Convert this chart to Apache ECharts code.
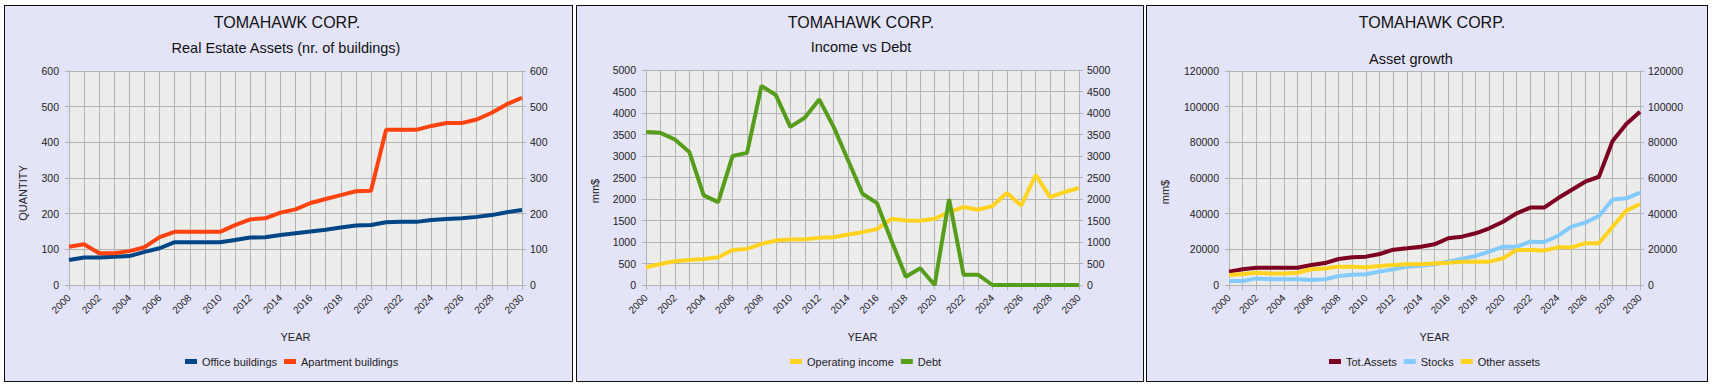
<!DOCTYPE html>
<html>
<head>
<meta charset="utf-8">
<script src="https://cdn.jsdelivr.net/npm/echarts@6/dist/echarts.min.js"></script>
<style>
  html, body { margin: 0; padding: 0; background: #ffffff; width: 1712px; height: 386px; overflow: hidden; }
  .panel { position: absolute; box-sizing: border-box; border: 1px solid #111; background: #e4e4f8; }
  #chart { position: absolute; left: 0; top: 0; width: 1712px; height: 386px; }
</style>
</head>
<body>
<div class="panel" style="left:4px;top:5px;width:569px;height:377px;"></div>
<div class="panel" style="left:576px;top:5px;width:568px;height:377px;"></div>
<div class="panel" style="left:1146px;top:5px;width:562px;height:377px;"></div>
<div id="chart"></div>
<script>
// ---- categories ----
const years = ['2000','2001','2002','2003','2004','2005','2006','2007','2008','2009','2010',
  '2011','2012','2013','2014','2015','2016','2017','2018','2019','2020',
  '2021','2022','2023','2024','2025','2026','2027','2028','2029','2030'];

// ---- panel 1: Real Estate Assets ----
const officeBuildings = [70,77,77,79,81,93,103,120,120,120,120,126,133,134,140,145,150,155,161,167,168,176,177,177,182,185,187,191,196,204,210];
const apartmentBuildings = [107,114,89,89,95,106,134,149,149,149,149,168,184,187,203,212,230,241,252,263,264,435,435,435,446,454,454,464,483,507,525];

// ---- panel 2: Income vs Debt ----
const operatingIncome = [412,490,552,583,607,645,816,840,956,1034,1058,1065,1096,1112,1174,1229,1299,1540,1500,1493,1540,1695,1812,1750,1835,2138,1851,2558,2045,2162,2255];
const debt = [3561,3538,3383,3095,2084,1928,3001,3072,4627,4417,3678,3888,4316,3678,2900,2123,1905,1034,194,389,0,1998,241,241,0,0,0,0,0,0,0];

// ---- panel 3: Asset growth ----
const totAssets = [7500,8800,9700,9700,9700,9700,11200,12300,14600,15500,15900,17400,19800,20600,21500,22800,26200,27100,29000,31800,35500,40200,43400,43400,48600,53300,57900,60700,80700,90300,97200];
const stocks = [2200,2200,3700,3200,3200,3200,2800,3200,5000,5800,6000,7500,8800,10300,10800,11600,13100,14600,16300,18700,21500,21500,24300,24100,27500,32700,35000,38700,48000,48600,51800];
const otherAssets = [5600,6200,6900,6500,6500,6900,8800,9300,10300,10300,9900,10700,11200,11600,11600,12100,12500,13100,13100,13100,15000,19600,19600,19300,21100,21100,23400,23400,32700,41700,45400];

// ---- texts ----
const corpTitle = 'TOMAHAWK CORP.';
const subTitles = ['Real Estate Assets (nr. of buildings)', 'Income vs Debt', 'Asset growth'];
const yNames = ['QUANTITY', 'mm$', 'mm$'];
const xName = 'YEAR';

const FONT = '"Liberation Sans", Arial, sans-serif';
const GRID_COLOR = '#b3b3b3';
const LABEL_COLOR = '#222222';

const grids = [
  { left: 69, top: 71, width: 453, height: 214 },
  { left: 646, top: 70, width: 433, height: 215 },
  { left: 1229, top: 71, width: 411, height: 214 }
];
const yScales = [
  { min: 0, max: 600, interval: 100 },
  { min: 0, max: 5000, interval: 500 },
  { min: 0, max: 120000, interval: 20000 }
];

function xAxisFor(i) {
  return {
    type: 'category', gridIndex: i, data: years, boundaryGap: false,
    name: xName, nameLocation: 'middle', nameGap: 46,
    nameTextStyle: { fontFamily: FONT, fontSize: 11, color: LABEL_COLOR },
    axisLine: { show: true, lineStyle: { color: GRID_COLOR } },
    axisTick: { show: true, interval: 0, length: 5, lineStyle: { color: GRID_COLOR } },
    axisLabel: { interval: 1, rotate: 45, fontFamily: FONT, fontSize: 10, color: LABEL_COLOR, margin: 11,
                 showMinLabel: true, showMaxLabel: true, hideOverlap: false },
    splitLine: { show: true, interval: 0, lineStyle: { color: GRID_COLOR, width: 1 } }
  };
}
function yAxisFor(i, pos) {
  return Object.assign({
    type: 'value', gridIndex: i, position: pos,
    axisLine: { show: true, lineStyle: { color: GRID_COLOR } },
    axisTick: { show: true, length: 4, lineStyle: { color: GRID_COLOR } },
    axisLabel: { fontFamily: FONT, fontSize: 10.5, color: LABEL_COLOR, margin: pos === 'left' ? 10 : 8,
                 formatter: v => String(v) },
    splitLine: { show: pos === 'left', lineStyle: { color: GRID_COLOR, width: 1 } }
  }, yScales[i]);
}

function line(name, data, color, xi, yi) {
  return {
    type: 'line', name: name, data: data, xAxisIndex: xi, yAxisIndex: yi,
    showSymbol: false, symbol: 'none', smooth: false,
    lineStyle: { color: color, width: 4 }, itemStyle: { color: color },
    emphasis: { disabled: true }, animation: false
  };
}

function legendFor(left, names) {
  return {
    left: left, top: 356, padding: 0, itemWidth: 12, itemHeight: 5, itemGap: 7, icon: 'rect',
    data: names, textStyle: { fontFamily: FONT, fontSize: 11, color: LABEL_COLOR }
  };
}

function txt(text, x, y, size, rot, color) {
  return {
    type: 'text', x: x, y: y, rotation: rot || 0, silent: true,
    style: {
      text: text, fill: color || '#111', font: size + 'px ' + FONT,
      textAlign: 'center', textVerticalAlign: 'middle', align: 'center', verticalAlign: 'middle'
    }
  };
}

const chart = echarts.init(document.getElementById('chart'), null, { renderer: 'svg' });
chart.setOption({
  backgroundColor: 'transparent',
  animation: false,
  grid: grids.map(g => Object.assign({ show: true, backgroundColor: '#ececea', borderWidth: 0, containLabel: false }, g)),
  xAxis: [xAxisFor(0), xAxisFor(1), xAxisFor(2)],
  yAxis: [yAxisFor(0, 'left'), yAxisFor(0, 'right'), yAxisFor(1, 'left'), yAxisFor(1, 'right'), yAxisFor(2, 'left'), yAxisFor(2, 'right')],
  legend: [
    legendFor(185, ['Office buildings', 'Apartment buildings']),
    legendFor(790, ['Operating income', 'Debt']),
    legendFor(1329, ['Tot.Assets', 'Stocks', 'Other assets'])
  ],
  series: [
    line('Office buildings', officeBuildings, '#004586', 0, 0),
    line('Apartment buildings', apartmentBuildings, '#ff420e', 0, 0),
    line('Operating income', operatingIncome, '#ffd320', 1, 2),
    line('Debt', debt, '#579d1c', 1, 2),
    line('Tot.Assets', totAssets, '#7e0021', 2, 4),
    line('Stocks', stocks, '#83caff', 2, 4),
    line('Other assets', otherAssets, '#ffd320', 2, 4)
  ],
  graphic: [
    txt(corpTitle, 287, 22, 16),
    txt(corpTitle, 861, 22, 16),
    txt(corpTitle, 1432, 22, 16),
    txt(subTitles[0], 286, 48, 14.5),
    txt(subTitles[1], 861, 47, 14.5),
    txt(subTitles[2], 1411, 59, 14.5),
    txt(yNames[0], 23, 193, 11, Math.PI / 2, LABEL_COLOR),
    txt(yNames[1], 595, 191, 11, Math.PI / 2, LABEL_COLOR),
    txt(yNames[2], 1165, 192, 11, Math.PI / 2, LABEL_COLOR)
  ]
});
</script>
</body>
</html>
